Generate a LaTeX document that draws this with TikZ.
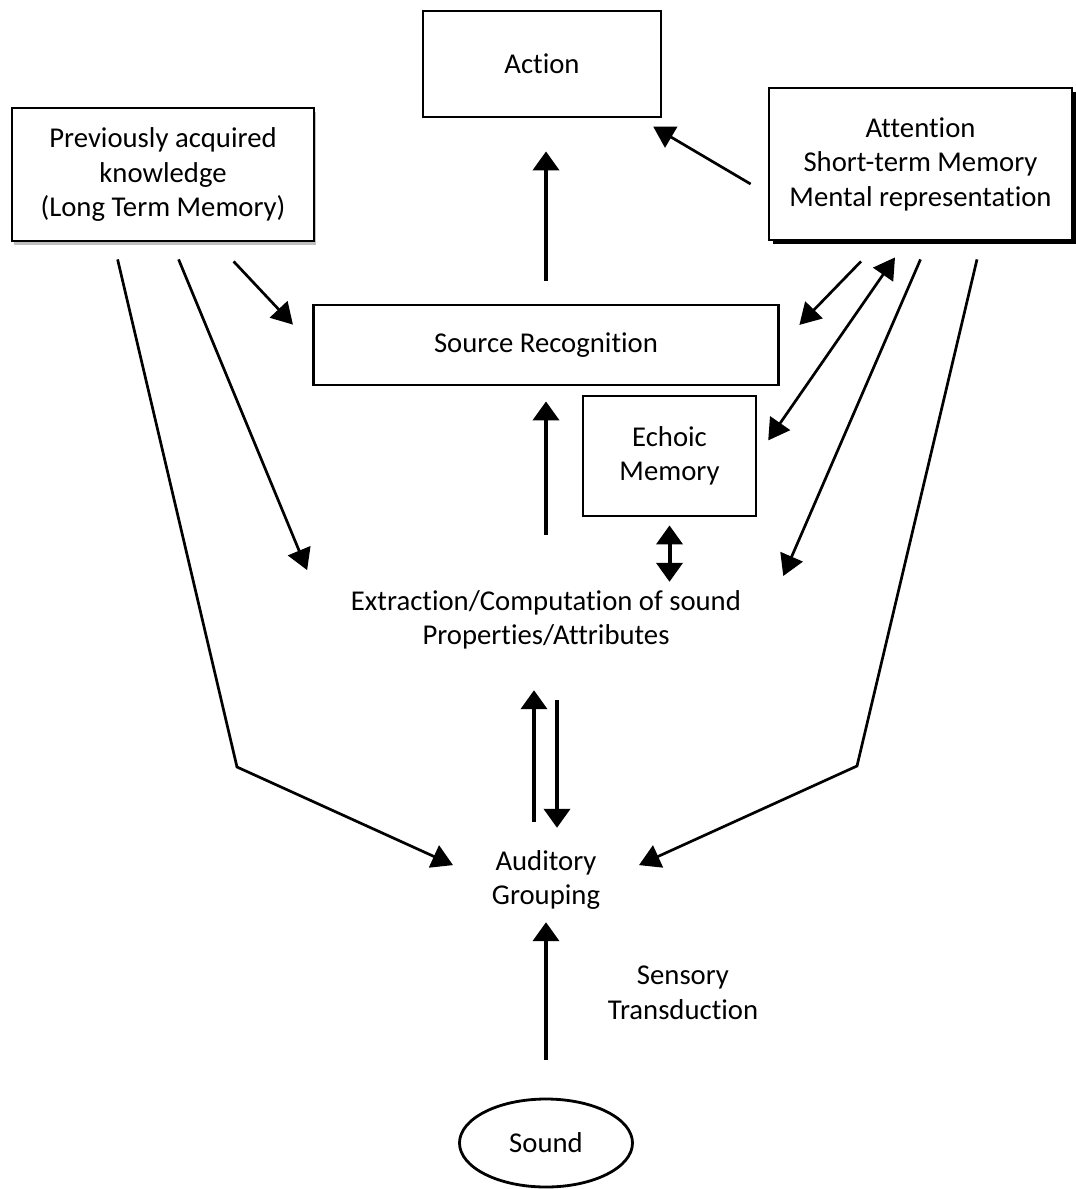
\documentclass[tikz,border=0pt]{standalone}
\usepackage{fontspec}
\setmainfont{Carlito}[Ligatures={NoCommon}]
\usetikzlibrary{arrows.meta, shadows, shapes.geometric}
\tikzset{
	box/.style={draw, fill=white, line width=2.8pt, inner sep=0pt, align=center}, % framed stages
	plain_text/.style={inner sep=0pt, align=center}, % stages without a frame
	heavy/.style={line width=4pt, >={Triangle[length=19pt, width=26pt]}, ->}, % main upward flow
	light/.style={line width=2.7pt, >={Triangle[length=21pt, width=24pt]}, ->}, % top-down influences
	black_shadow/.style={drop shadow={shadow xshift=4pt, shadow yshift=-4pt, fill=black, opacity=1}},
	grey_shadow/.style={drop shadow={shadow xshift=2pt, shadow yshift=-4pt, fill=black!25, opacity=1}},
}

\begin{document}
\begin{tikzpicture}[x=1pt, y=-1pt, font=\fontsize{28.7}{34.5}\selectfont]
		\useasboundingbox (0,0) rectangle (1076,1189);

		\node[box, minimum width=238pt, minimum height=106pt] (action_box) at (542,64) {Action};
		\node[box, grey_shadow, minimum width=302pt, minimum height=133pt] (prior_knowledge) at (163,174.5) {Previously acquired\\knowledge\\(Long Term Memory)};
		\node[box, black_shadow, minimum width=303pt, minimum height=152pt] (attention_box) at (920.5,164) {Attention\\Short-term Memory\\Mental representation};
		\node[box, minimum width=465pt, minimum height=80pt] (source_recognition) at (546,345) {Source Recognition};
		\node[box, minimum width=173pt, minimum height=120pt] (echoic_memory) at (669.5,456) {Echoic\\Memory};
		\node[plain_text, minimum width=436pt, minimum height=70pt] (extraction) at (546,620) {Extraction/Computation of sound\\Properties/Attributes};
		\node[plain_text, minimum width=120pt, minimum height=70pt] (auditory_grouping) at (546,880) {Auditory\\Grouping};
		\node[plain_text] (sensory_transduction) at (683,993) {Sensory\\Transduction};
		\node[draw, ellipse, line width=2.8pt, inner sep=0pt, minimum width=173pt, minimum height=88pt] (sound) at (546,1143) {Sound};

		\coordinate (left_bend) at (237,767);
		\coordinate (right_bend) at (857,766);

		% bottom-up path
		\draw[heavy, shorten <=38pt, shorten >=7pt] (sound.north) -- (auditory_grouping.south);
		\draw[heavy, shorten <=23pt, shorten >=35pt] ([xshift=-12pt]auditory_grouping.north) -- ([xshift=-12pt]extraction.south);
		\draw[heavy, shorten <=45pt, shorten >=17pt] ([xshift=11pt]extraction.south) -- ([xshift=11pt]auditory_grouping.north);
		\draw[heavy, shorten <=50pt, shorten >=15pt] (extraction.north) -- (source_recognition.south);
		\draw[heavy, <->, shorten <=8pt, shorten >=3pt] (echoic_memory.south) -- (echoic_memory.south |- extraction.north);
		\draw[heavy, shorten <=23pt, shorten >=33pt] (source_recognition.north) -- (source_recognition.north |- action_box.south);

		% long term memory
		\draw[light, shorten >=36pt] ([shift={(107,17)}]prior_knowledge.south west) -- (left_bend) -- (auditory_grouping.west);
		\draw[light, shorten >=54pt] ([shift={(168,17)}]prior_knowledge.south west) -- (extraction.west);
		\draw[light, shorten >=28pt] ([shift={(223,19)}]prior_knowledge.south west) -- (source_recognition.west);

		% attention and short-term memory
		\draw[light, shorten >=16pt] ([shift={(-17,20)}]attention_box.west) -- ([xshift=-23pt]action_box.south east);
		\draw[light, shorten >=28pt] ([shift={(-59.5,20)}]attention_box.south) -- (source_recognition.east);
		\draw[light, <->, shorten <=19pt] (echoic_memory.east) -- ([shift={(-25.5,16)}]attention_box.south);
		\draw[light, shorten >=48pt] ([yshift=-18pt]attention_box.south) -- (extraction.east);
		\draw[light, shorten >=36pt] ([shift={(56.5,18)}]attention_box.south) -- (right_bend) -- (auditory_grouping.east);
	\end{tikzpicture}
\end{document}
